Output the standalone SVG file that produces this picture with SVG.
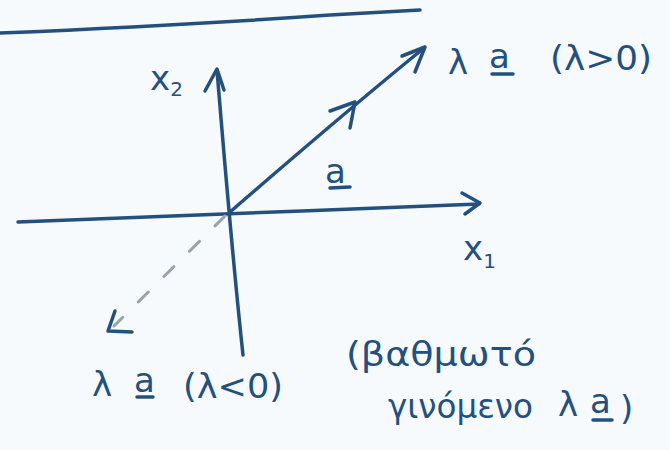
<svg xmlns="http://www.w3.org/2000/svg" width="670" height="450" viewBox="0 0 670 450">
  <defs>
    <style>
      .ink { stroke: #24507e; stroke-width: 3.5; fill: none; stroke-linecap: round; stroke-linejoin: round; }
      .dash { stroke: #9aa3ad; stroke-width: 3; fill: none; stroke-dasharray: 14 22; stroke-linecap: round; }
      .lbl { fill: #24507e; font-family: "DejaVu Sans", "Liberation Sans", sans-serif; font-size: 34px; }
      .sub { font-size: 20px; }
    </style>
  </defs>
  <rect width="670" height="450" fill="#f7fafc"/>

  <!-- top rule -->
  <path class="ink" d="M0,33 C120,28 230,22 330,15 C370,13 400,11 420,10" stroke-width="3"/>

  <g id="connectors">
    <!-- x1 axis -->
    <path id="axis-x1" class="ink" d="M18,222 C120,218 330,210 479,204"/>
    <path class="ink" d="M462,193 L480,203 L465,214"/>
    <!-- x2 axis -->
    <path id="axis-x2" class="ink" d="M243,355 C236,290 226,180 217,70"/>
    <path class="ink" d="M205,91 L217,69 L224,90"/>
    <!-- vector a -->
    <path id="vec-a" class="ink" d="M230,212 C290,160 360,100 424,48"/>
    <path class="ink" d="M330,111 L355,102 L350,128"/>
    <path class="ink" d="M402,56 L425,47 L415,72"/>
    <!-- negative direction -->
    <path id="vec-neg" class="dash" d="M225,216 L114,326"/>
    <path class="ink" d="M115,311 L108,331 L132,332"/>
  </g>

  <g id="label-x2">
    <text class="lbl" x="150" y="90">x<tspan class="sub" dy="6">2</tspan></text>
  </g>
  <g id="label-x1">
    <text class="lbl" x="463" y="260">x<tspan class="sub" dy="8">1</tspan></text>
  </g>
  <g id="label-a">
    <text class="lbl" x="325" y="183">a</text>
    <path class="ink" d="M330,188 L350,187" stroke-width="3"/>
  </g>
  <g id="label-pos">
    <text class="lbl" x="448" y="74">λ</text>
    <text class="lbl" x="489" y="68">a</text>
    <path class="ink" d="M492,74 L513,74" stroke-width="3"/>
    <text class="lbl" x="550" y="70" textLength="102" lengthAdjust="spacingAndGlyphs">(λ&gt;0)</text>
  </g>
  <g id="label-neg">
    <text class="lbl" x="92" y="396">λ</text>
    <text class="lbl" x="134" y="392">a</text>
    <path class="ink" d="M137,397 L153,397" stroke-width="3"/>
    <text class="lbl" x="183" y="398" textLength="100" lengthAdjust="spacingAndGlyphs">(λ&lt;0)</text>
  </g>
  <g id="label-scalar">
    <text class="lbl" x="346" y="366" textLength="190" lengthAdjust="spacingAndGlyphs">(βαθμωτό</text>
    <text class="lbl" x="388" y="418" textLength="145" lengthAdjust="spacingAndGlyphs">γινόμενο</text>
    <text class="lbl" x="558" y="416">λ</text>
    <text class="lbl" x="590" y="413">a</text>
    <path class="ink" d="M593,420 L612,420" stroke-width="3"/>
    <text class="lbl" x="620" y="420">)</text>
  </g>
</svg>
